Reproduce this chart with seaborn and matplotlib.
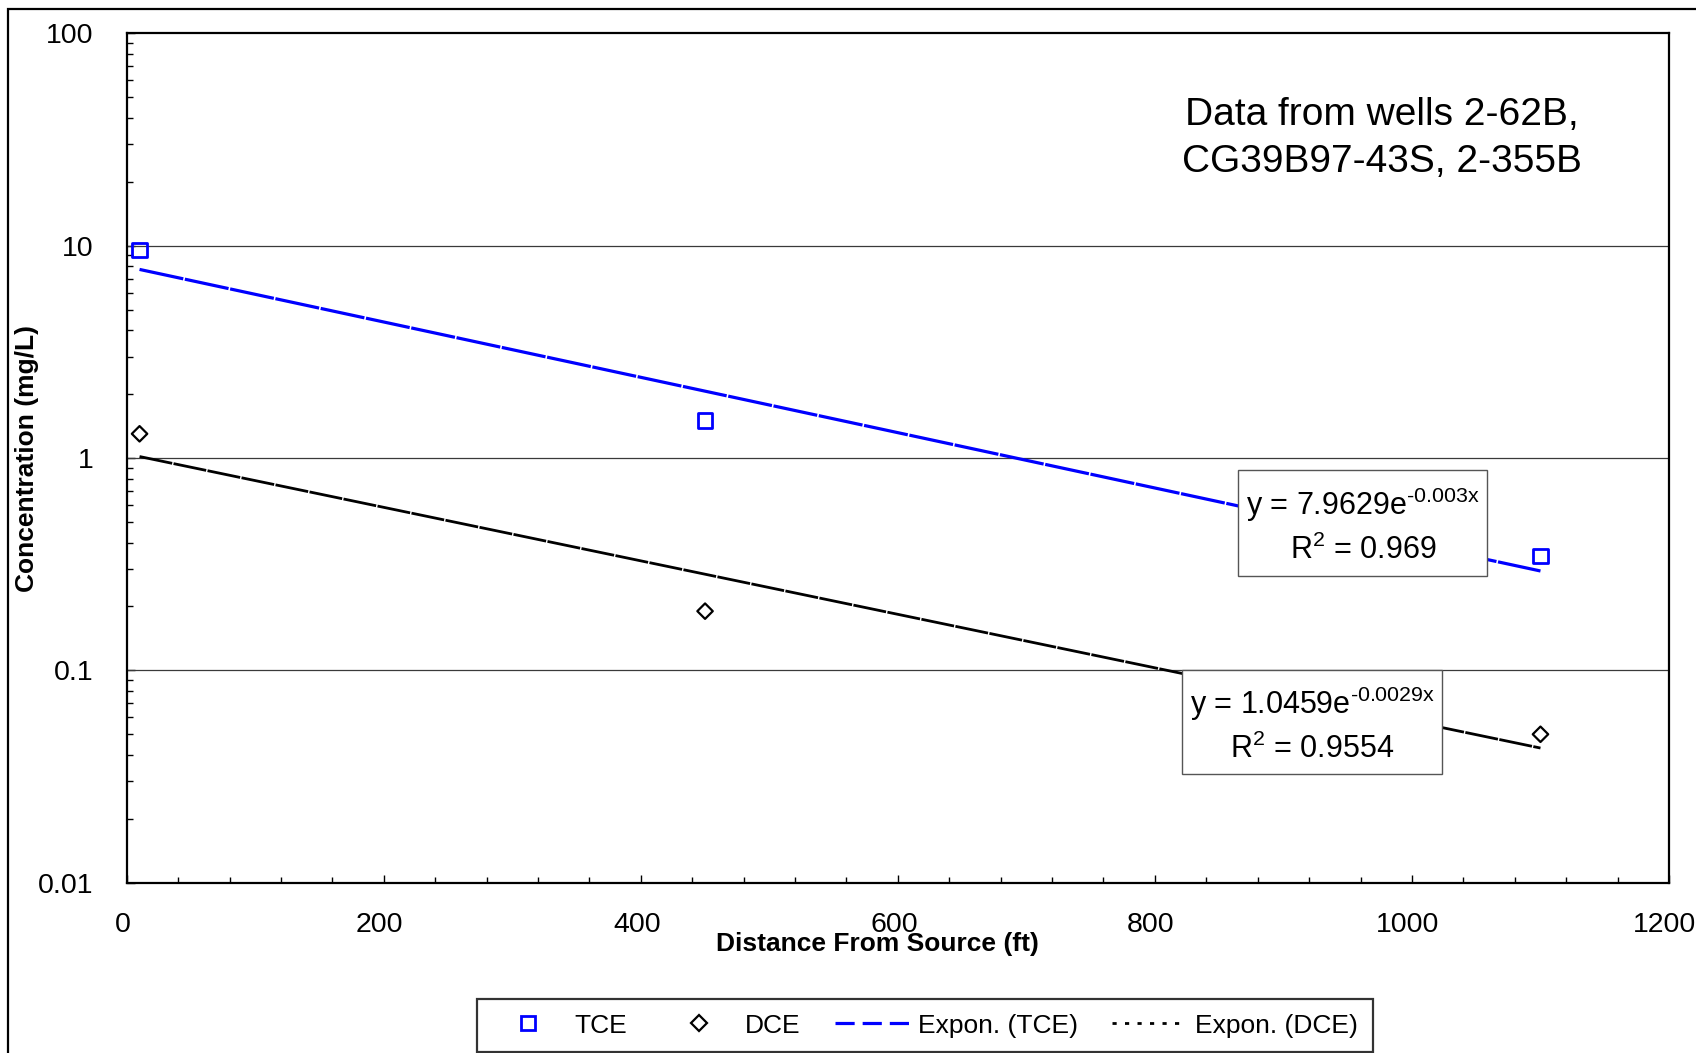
import numpy as np
import pandas as pd
import matplotlib
matplotlib.use("Agg")
import matplotlib.pyplot as plt
import matplotlib.transforms as mtransforms
import seaborn as sns
from matplotlib.lines import Line2D
from matplotlib.patches import Rectangle
from matplotlib.ticker import FixedLocator, LogLocator, NullFormatter, MultipleLocator

# ---------------- data ----------------
distance_ft = [10, 450, 1100]
tce_mg_l = [9.5, 1.5, 0.345]
dce_mg_l = [1.3, 0.19, 0.050]

tce_fit = [7.9629, -0.003]   # a, b  (y = a e^(b x))
dce_fit = [1.0459, -0.0029]
tce_r2 = "0.969"
dce_r2 = "0.9554"

x_tick_values = [0, 200, 400, 600, 800, 1000, 1200]
x_tick_labels = ["0", "200", "400", "600", "800", "1000", "1200"]
y_tick_values = [0.01, 0.1, 1, 10, 100]
y_tick_labels = ["0.01", "0.1", "1", "10", "100"]

note_lines = ["Data from wells 2-62B,", "CG39B97-43S, 2-355B"]

# ---------------- style ----------------
sns.set_theme(style="white")
plt.rcParams["font.family"] = ["Liberation Sans", "DejaVu Sans"]
plt.rcParams["mathtext.fontset"] = "custom"
plt.rcParams["mathtext.rm"] = "Liberation Sans"
plt.rcParams["mathtext.it"] = "Liberation Sans:italic"
plt.rcParams["mathtext.bf"] = "Liberation Sans:bold"

W, H = 1696, 1053
fig = plt.figure(figsize=(W / 100, H / 100), dpi=100)
fig.patch.set_facecolor("white")

ax_l, ax_r, ax_t, ax_b = 126.7, 1669.0, 33.3, 882.7
ax = fig.add_axes([ax_l / W, 1 - ax_b / H, (ax_r - ax_l) / W, (ax_b - ax_t) / H])

# outer chart frame (clipped at right/bottom)
fig.patches.append(Rectangle((7.5 / W, -0.2), 1.2, 1.2 - 8.5 / H, transform=fig.transFigure,
                             fill=False, edgecolor="black", linewidth=1.6, zorder=0))

# ---------------- trend lines ----------------
xs = np.linspace(distance_ft[0], distance_ft[-1], 60)
fit_df = pd.DataFrame({
    "x": xs,
    "TCE": tce_fit[0] * np.exp(tce_fit[1] * xs),
    "DCE": dce_fit[0] * np.exp(dce_fit[1] * xs),
})
sns.lineplot(data=fit_df, x="x", y="TCE", ax=ax, color="blue", linewidth=2.3,
             linestyle=(0, (14, 0.5)), errorbar=None, legend=False, zorder=3)
sns.lineplot(data=fit_df, x="x", y="DCE", ax=ax, color="black", linewidth=2.0,
             linestyle=(0, (12, 0.5)), errorbar=None, legend=False, zorder=3)

# ---------------- data points ----------------
pts = pd.DataFrame({"distance": distance_ft, "TCE": tce_mg_l, "DCE": dce_mg_l})
sns.scatterplot(data=pts, x="distance", y="TCE", ax=ax, marker="s", s=105,
                color="blue", facecolor="none", edgecolor="blue", linewidth=2.0, zorder=5)
sns.scatterplot(data=pts, x="distance", y="DCE", ax=ax, marker="D", s=62,
                color="black", facecolor="none", edgecolor="black", linewidth=1.6, zorder=5)

# ---------------- axes ----------------
ax.set_yscale("log")
ax.set_xlim(0, 1200)
ax.set_ylim(0.01, 100)
ax.xaxis.set_major_locator(FixedLocator(x_tick_values))
ax.set_xticklabels(x_tick_labels)
ax.xaxis.set_minor_locator(MultipleLocator(40))
ax.yaxis.set_major_locator(FixedLocator(y_tick_values))
ax.set_yticklabels(y_tick_labels)
ax.yaxis.set_minor_locator(LogLocator(base=10, subs=np.arange(2, 10)))
ax.yaxis.set_minor_formatter(NullFormatter())

ax.tick_params(axis="both", which="both", direction="in", color="black",
               labelsize=20.5, labelcolor="black")
ax.tick_params(axis="x", which="major", length=6, width=1.0, pad=21, bottom=True, top=False)
ax.tick_params(axis="x", which="minor", length=4, width=1.0, bottom=True, top=False)
ax.tick_params(axis="y", which="major", length=6, width=1.0, pad=24, left=True, right=False)
ax.tick_params(axis="y", which="minor", length=4, width=1.0, left=True, right=False)

# x tick labels sit a few pixels left of their ticks in the reference
shift = mtransforms.ScaledTranslation(-4 / 100, 0, fig.dpi_scale_trans)
for lbl in ax.get_xticklabels():
    lbl.set_transform(lbl.get_transform() + shift)

for s in ax.spines.values():
    s.set_color("black")
    s.set_linewidth(1.6)

ax.grid(False)
for v in y_tick_values[1:-1]:
    ax.axhline(v, color="#3a3a3a", linewidth=0.9, zorder=1)

ax.set_xlabel("Distance From Source (ft)", fontsize=19, fontweight="bold", color="black")
ax.xaxis.set_label_coords((877.7 - ax_l) / (ax_r - ax_l), (ax_b - 944) / (ax_b - ax_t))
ax.xaxis.label.set_va("center")
ax.set_ylabel("Concentration (mg/L)", fontsize=19, fontweight="bold", color="black")
ax.yaxis.set_label_coords((27 - ax_l) / (ax_r - ax_l), 0.5)
ax.yaxis.label.set_va("center")


def ax_xy(px, py):
    return (px - ax_l) / (ax_r - ax_l), (ax_b - py) / (ax_b - ax_t)


# note text
for line, base in zip(note_lines, [125.5, 172.0]):
    x0, y0 = ax_xy(1382, base)
    ax.text(x0, y0, line, transform=ax.transAxes, ha="center", va="baseline",
            fontsize=28, color="black")


# equation boxes
def eq_box(x0, x1, y0, y1, cx, b1, b2, fit, r2):
    ax0, ay1 = ax_xy(x0, y1)
    ax1, ay0 = ax_xy(x1, y0)
    ax.add_patch(Rectangle((ax0, ay1), ax1 - ax0, ay0 - ay1, transform=ax.transAxes,
                           facecolor="white", edgecolor="#555555", linewidth=1.0, zorder=6))
    xc, yb1 = ax_xy(cx, b1)
    _, yb2 = ax_xy(cx, b2)
    exp_txt = format(fit[1], "g").replace("-", "\u2010")
    ax.text(xc, yb1, f"y = {fit[0]:.4f}e$^{{\\mathregular{{{exp_txt}x}}}}$", transform=ax.transAxes,
            ha="center", va="baseline", fontsize=22, color="black", zorder=7)
    ax.text(xc, yb2, f"R$^{{\\mathregular{{2}}}}$ = {r2}", transform=ax.transAxes,
            ha="center", va="baseline", fontsize=22, color="black", zorder=7)


eq_box(1238, 1487, 470, 576, 1363, 515, 559, tce_fit, tce_r2)
eq_box(1182, 1442, 669.5, 774.4, 1312, 714, 758, dce_fit, dce_r2)

# ---------------- legend ----------------
handles = [
    Line2D([], [], linestyle="none", marker="s", markersize=10, markerfacecolor="none",
           markeredgecolor="blue", markeredgewidth=2.0),
    Line2D([], [], linestyle="none", marker="D", markersize=8, markerfacecolor="none",
           markeredgecolor="black", markeredgewidth=1.6),
    Line2D([], [], color="blue", linewidth=2.3, linestyle=(0, (6, 2.5))),
    Line2D([], [], color="black", linewidth=2.0, linestyle=(0, (1.5, 3))),
]
labels = ["TCE", "DCE", "Expon. (TCE)", "Expon. (DCE)"]
leg = fig.legend(handles, labels, loc="upper left", bbox_to_anchor=(477 / W, 1 - 999 / H),
                 ncol=4, fontsize=19, frameon=True, fancybox=False, edgecolor="black",
                 handlelength=2.8, handletextpad=0.35, columnspacing=1.3, borderpad=0.55,
                 borderaxespad=0)
leg.get_frame().set_linewidth(1.6)
for t in leg.get_texts():
    t.set_color("black")

fig.savefig("out.png", dpi=100, facecolor="white")
